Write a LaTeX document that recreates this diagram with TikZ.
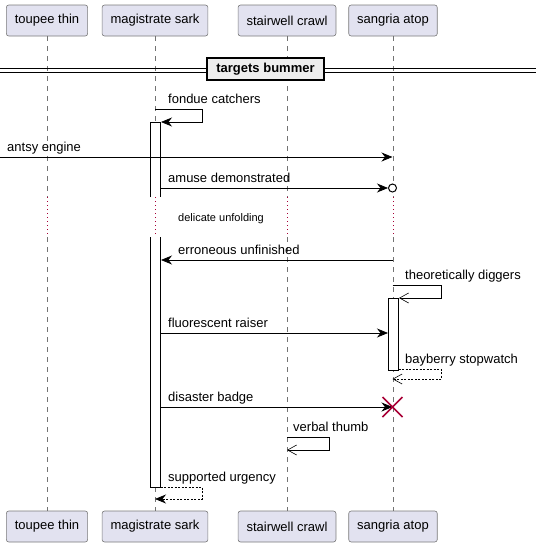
\documentclass[tikz,border=0pt]{standalone}
\usepackage{fontspec}
\setmainfont{Liberation Sans}
\usetikzlibrary{arrows.meta}
\definecolor{partfill}{HTML}{E2E2F0}
\definecolor{partline}{HTML}{7A7A7A}
\definecolor{delaycol}{HTML}{A80036}
\definecolor{divfill}{HTML}{EEEEEE}
\tikzset{
  actor/.style={draw=partline, fill=partfill, rounded corners=2.5pt, minimum height=31pt,
    inner xsep=8.5pt, line width=0.6pt, font=\fontsize{13}{15}\selectfont},
  lifeline/.style={draw=black!55, dash pattern=on 5pt off 5pt, line width=0.5pt},
  delayline/.style={draw=delaycol, dash pattern=on 1pt off 3pt, line width=0.6pt},
  msg/.style={line width=0.8pt, -{Stealth[length=11pt,width=9pt,inset=3.5pt]}},
  reply/.style={msg, dash pattern=on 2pt off 1.5pt},
  openmsg/.style={line width=0.8pt, -{Straight Barb[length=9pt,width=10pt,line width=0.6pt]}},
  openreply/.style={openmsg, dash pattern=on 2pt off 1.5pt},
  lbl/.style={anchor=base west, inner sep=0pt, font=\fontsize{13}{15}\selectfont},
}
\begin{document}
\begin{tikzpicture}[x=1pt,y=-1pt]
  \useasboundingbox (0,0) rectangle (536,547);
  % participants
  \node[actor] (tpTop) at (47,20.5) {toupee thin};
  \node[actor] (msTop) at (155,20.5) {magistrate sark};
  \node[actor] (swTop) at (287,20.5) {stairwell crawl};
  \node[actor] (saTop) at (393,20.5) {sangria atop};
  \node[actor] (tpBot) at (47,526.5) {toupee thin};
  \node[actor] (msBot) at (155,526.5) {magistrate sark};
  \node[actor] (swBot) at (287,526.5) {stairwell crawl};
  \node[actor] (saBot) at (393,526.5) {sangria atop};
  % lifelines with delay
  \coordinate (delayA) at (0,197);
  \coordinate (delayB) at (0,237);
  \foreach \P in {tp,ms,sw,sa} {
    \draw[lifeline] (\P Top.south) -- (\P Top.south |- delayA);
    \draw[delayline] (\P Top.south |- delayA) -- (\P Top.south |- delayB);
    \draw[lifeline] (\P Top.south |- delayB) -- (\P Bot.north);
  }
  \node[inner sep=0pt, anchor=base west, font=\fontsize{11}{13}\selectfont] (delay) at (178,221) {delicate unfolding};
  % divider
  \coordinate (divL) at (0,70);
  \coordinate (divR) at (536,70);
  \draw[line width=0.8pt] ([yshift=-2pt]divL) -- ([yshift=-2pt]divR);
  \draw[line width=0.8pt] ([yshift=2pt]divL) -- ([yshift=2pt]divR);
  \node[draw=black, fill=divfill, line width=1.5pt, minimum width=117pt, minimum height=22pt,
    font=\bfseries\fontsize{13}{15}\selectfont] (targets) at (265.5,69) {targets bummer};
  % activations
  \fill[white] (150.5,122) rectangle (160.5,197);
  \draw[line width=0.8pt] (150.5,197) -- (150.5,122) -- (160.5,122) -- (160.5,197);
  \fill[white] (150.5,237) rectangle (160.5,487);
  \draw[line width=0.8pt] (150.5,237) -- (150.5,487) -- (160.5,487) -- (160.5,237);
  \draw[line width=0.8pt, fill=white] (388.5,298) rectangle (398.5,370);
  % message points
  \coordinate (fc1) at (155,109);
  \coordinate (fc2) at (161,122);
  \coordinate (ae1) at (0,157);
  \coordinate (ae2) at (392.5,157);
  \coordinate (ad1) at (160.5,188);
  \coordinate (ad2) at (388,188);
  \coordinate (adEnd) at (392.5,188);
  \coordinate (eu1) at (392.5,260);
  \coordinate (eu2) at (161,260);
  \coordinate (td1) at (392.5,285);
  \coordinate (td2) at (399,298);
  \coordinate (fr1) at (160.5,333);
  \coordinate (fr2) at (388,333);
  \coordinate (bs1) at (398.5,369);
  \coordinate (bs2) at (392.5,379);
  \coordinate (db1) at (160.5,407);
  \coordinate (db2) at (392.5,407);
  \coordinate (vt1) at (287,437);
  \coordinate (vt2) at (287,450);
  \coordinate (su1) at (160.5,487);
  \coordinate (su2) at (155,499);
  % messages
  \draw[msg] (fc1) -- (202,109) -- (202,122) -- (fc2);
  \node[lbl] at (168,103) {fondue catchers};
  \draw[msg] (ae1) -- (ae2);
  \node[lbl] at (7,151) {antsy engine};
  \draw[msg] (ad1) -- (ad2);
  \draw[line width=1pt, fill=white] (adEnd) circle (4pt);
  \node[lbl] at (168,182) {amuse demonstrated};
  \draw[msg] (eu1) -- (eu2);
  \node[lbl] at (178,254) {erroneous unfinished};
  \draw[openmsg] (td1) -- (441,285) -- (441,298) -- (td2);
  \node[lbl] at (405,279) {theoretically diggers};
  \draw[msg] (fr1) -- (fr2);
  \node[lbl] at (168,327) {fluorescent raiser};
  \draw[openreply] (bs1) -- (441,369) -- (441,379) -- (bs2);
  \node[lbl] at (405,363) {bayberry stopwatch};
  \draw[msg] (db1) -- (db2);
  \draw[delaycol, line width=1.5pt] ([shift={(-10,-10)}]db2) -- ([shift={(10,10)}]db2)
    ([shift={(-10,10)}]db2) -- ([shift={(10,-10)}]db2);
  \node[lbl] at (168,401) {disaster badge};
  \draw[openmsg] (vt1) -- (329,437) -- (329,450) -- (vt2);
  \node[lbl] at (293,431) {verbal thumb};
  \draw[reply] (su1) -- (202,487) -- (202,499) -- (su2);
  \node[lbl] at (168,481) {supported urgency};
\end{tikzpicture}
\end{document}
